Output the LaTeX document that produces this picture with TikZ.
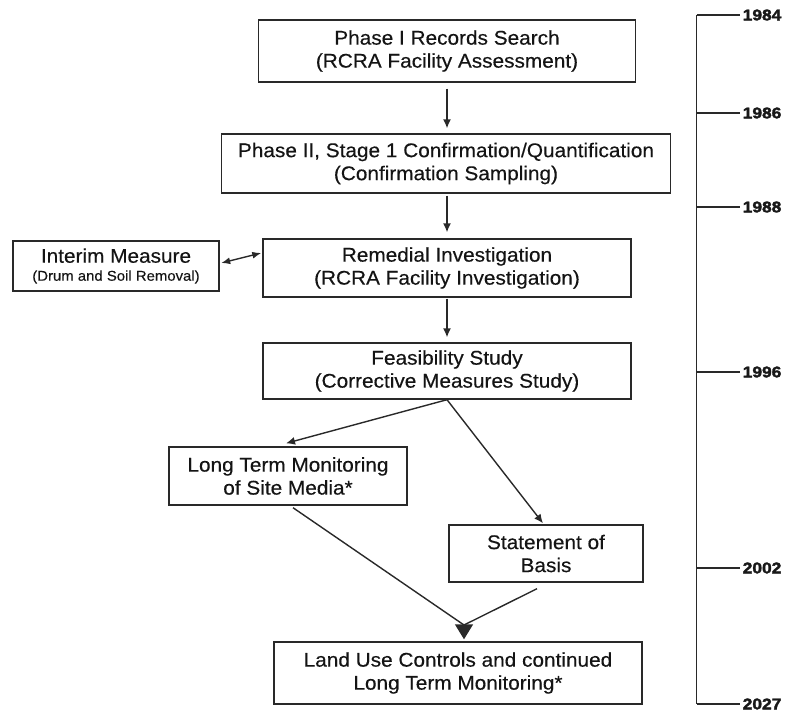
\documentclass[tikz,border=0pt]{standalone}
\usepackage{fontspec}
\setmainfont{Liberation Sans}[FakeStretch=1.05,FakeBold=0.35]
\newfontfamily\yearfont{Liberation Sans}[FakeStretch=1.12,FakeBold=2.2]
\usetikzlibrary{arrows.meta,calc}
\definecolor{linec}{gray}{0.16}

\begin{document}
\begin{tikzpicture}[x=1pt,y=-1pt,
  box/.style={draw=linec, line width=1.4pt, inner sep=0pt, align=center,
    font=\fontsize{19.8}{23}\selectfont, text=black!92},
  flow/.style={draw=linec, line width=1.4pt, -{Latex[length=9pt,width=8pt]}},
  twoway/.style={draw=linec, line width=1.4pt,
    {Latex[length=9pt,width=7pt]}-{Latex[length=9pt,width=7pt]}},
  link/.style={draw=linec, line width=1.4pt},
  bigtip/.style={draw=linec, line width=1.4pt, -{Triangle[length=15pt,width=18pt]}},
  axisline/.style={draw=linec, line width=1.5pt},
  year/.style={font=\yearfont\bfseries\fontsize{15.5}{15.5}\selectfont, inner sep=2pt, anchor=west, text=black!90}
]
\useasboundingbox (0,0) rectangle (788,713);

% process boxes
\node[box, minimum width=377pt, minimum height=62pt] (rfs) at (447,51)
  {Phase I Records Search\\(RCRA Facility Assessment)};
\node[box, minimum width=449pt, minimum height=59pt] (conf) at (446,163.5)
  {Phase II, Stage 1 Confirmation/Quantification\\(Confirmation Sampling)};
\node[box, minimum width=368pt, minimum height=58pt] (ri) at (447,268)
  {Remedial Investigation\\(RCRA Facility Investigation)};
\node[box, minimum width=206pt, minimum height=50pt,
  font=\fontsize{19.8}{18}\selectfont] (im) at (116,266)
  {Interim Measure\\{\fontsize{14.2}{17}\selectfont (Drum and Soil Removal)}};
\node[box, minimum width=368pt, minimum height=56pt] (fs) at (447,371)
  {Feasibility Study\\(Corrective Measures Study)};
\node[box, minimum width=238pt, minimum height=58pt] (ltm) at (288,476)
  {Long Term Monitoring\\of Site Media*};
\node[box, minimum width=194pt, minimum height=57pt] (sob) at (546,553.5)
  {Statement of\\Basis};
\node[box, minimum width=368pt, minimum height=62pt] (luc) at (458,673)
  {Land Use Controls and continued\\Long Term Monitoring*};

% connectors
\draw[flow, shorten <=6pt, shorten >=5pt] (rfs.south) -- (rfs.south |- conf.north);
\draw[flow, shorten <=2pt, shorten >=6pt] (ri.north |- conf.south) -- (ri.north);
\draw[flow, shorten <=1pt, shorten >=5pt] (ri.south) -- (fs.north);
\draw[twoway] ($(im.east)+(1.5,-3)$) -- ($(ri.west)+(-1,-15)$);
\draw[flow] (fs.south) -- ($(ltm.north)+(-2,-3)$);
\draw[flow] (fs.south) -- ($(sob.north)+(-3,-1)$);

\coordinate (mg) at (464,625);
\draw[link] ($(ltm.south)+(5,2)$) -- (mg);
\draw[link] ($(sob.south)+(-9,6)$) -- (mg);
\draw[bigtip, shorten >=2pt] (mg) -- (mg |- luc.north);

% time axis
\coordinate (ttop) at (696.5,15);
\coordinate (tbot) at (696.5,704);
\draw[axisline] (ttop) -- (tbot);
\foreach \yy/\yr in {15/1984,113/1986,207/1988,372/1996,568/2002,704/2027}{
  \draw[axisline] (696.5,\yy) -- (740,\yy) node[year] (yr\yr) {\yr};
}
\end{tikzpicture}
\end{document}
